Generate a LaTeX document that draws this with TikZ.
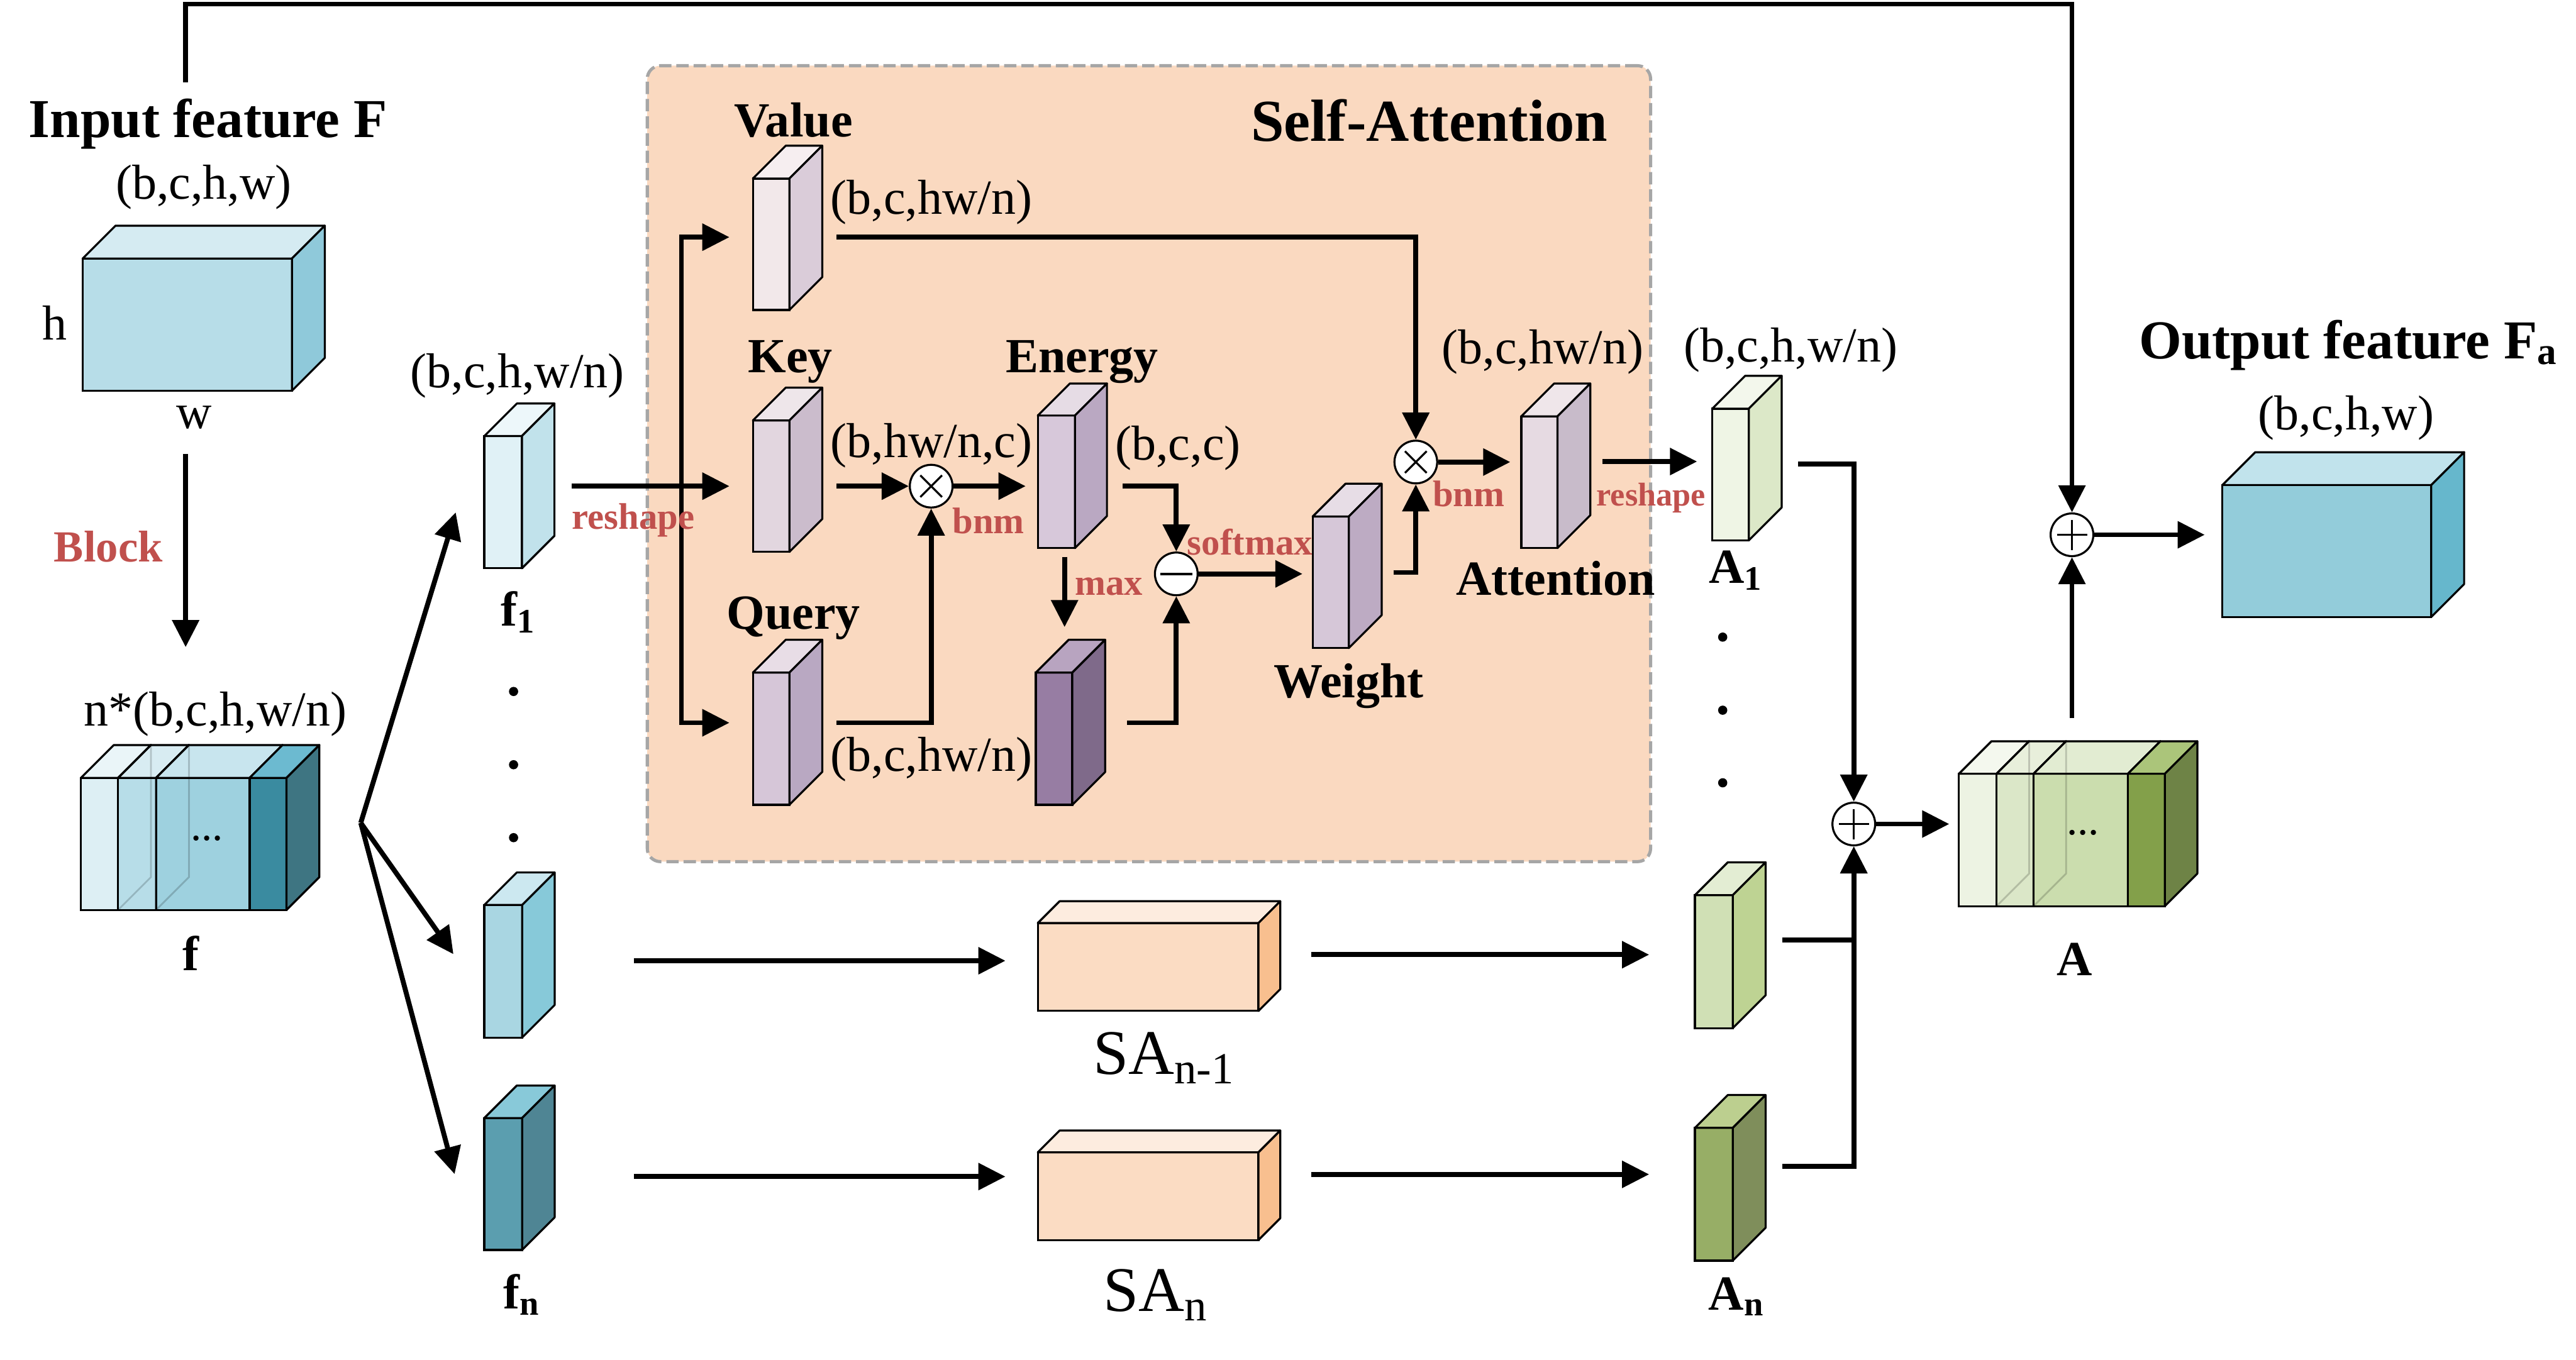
\documentclass[tikz,border=0pt]{standalone}
\usepackage{fontspec}
\setmainfont{Liberation Serif}
\usetikzlibrary{arrows.meta}

\definecolor{inFf}{HTML}{B7DDE8}\definecolor{inFt}{HTML}{D5EBF2}\definecolor{inFs}{HTML}{8FC9DA}
\definecolor{fSa}{HTML}{DDEFF4}\definecolor{fSat}{HTML}{EAF5F8}
\definecolor{fSb}{HTML}{B7DDE8}\definecolor{fSbt}{HTML}{D8ECF2}
\definecolor{fSc}{HTML}{9ED1DF}\definecolor{fSct}{HTML}{C8E5EE}
\definecolor{fSd}{HTML}{3A8BA0}\definecolor{fSdt}{HTML}{6CBAD0}\definecolor{fSds}{HTML}{3E7582}
\definecolor{fOnef}{HTML}{E0F1F6}\definecolor{fOnet}{HTML}{EDF7FA}\definecolor{fOnes}{HTML}{C1E2EB}
\definecolor{fMf}{HTML}{A9D6E2}\definecolor{fMt}{HTML}{CCE8F0}\definecolor{fMs}{HTML}{87C9D9}
\definecolor{fNf}{HTML}{5B9EAF}\definecolor{fNt}{HTML}{88C9D9}\definecolor{fNs}{HTML}{4F8594}
\definecolor{valf}{HTML}{F2E8EA}\definecolor{valt}{HTML}{F6EEF0}\definecolor{vals}{HTML}{DACCD9}
\definecolor{keyf}{HTML}{E2D6DF}\definecolor{keyt}{HTML}{EEE6EA}\definecolor{keys}{HTML}{CBBCCC}
\definecolor{qryf}{HTML}{D6C6D8}\definecolor{qryt}{HTML}{E8DDE6}\definecolor{qrys}{HTML}{B9A8C2}
\definecolor{engf}{HTML}{D7C8DA}\definecolor{engt}{HTML}{E6DCE5}\definecolor{engs}{HTML}{BAA8C2}
\definecolor{maxf}{HTML}{977DA3}\definecolor{maxt}{HTML}{B8A4C0}\definecolor{maxs}{HTML}{7F6A8A}
\definecolor{wgtf}{HTML}{D6C7D8}\definecolor{wgtt}{HTML}{E7DDE6}\definecolor{wgts}{HTML}{BDABC3}
\definecolor{attf}{HTML}{E6DAE2}\definecolor{attt}{HTML}{EFE6EA}\definecolor{atts}{HTML}{C8BBCA}
\definecolor{saf}{HTML}{FBDCC3}\definecolor{sat}{HTML}{FDECDF}\definecolor{sas}{HTML}{F8BF8F}
\definecolor{aOnef}{HTML}{EFF5E5}\definecolor{aOnet}{HTML}{F3F7EC}\definecolor{aOnes}{HTML}{DCE8C8}
\definecolor{aMf}{HTML}{D0E0B5}\definecolor{aMt}{HTML}{E3EDD3}\definecolor{aMs}{HTML}{BED393}
\definecolor{aNf}{HTML}{97AE66}\definecolor{aNt}{HTML}{BCCF8F}\definecolor{aNs}{HTML}{7F8E5B}
\definecolor{aSa}{HTML}{EDF3E3}\definecolor{aSat}{HTML}{F4F8EE}
\definecolor{aSb}{HTML}{DBE7C8}\definecolor{aSbt}{HTML}{E8EFDB}
\definecolor{aSc}{HTML}{CBDDAE}\definecolor{aSct}{HTML}{E2ECD2}
\definecolor{aSd}{HTML}{83A04A}\definecolor{aSdt}{HTML}{ABC57A}\definecolor{aSds}{HTML}{6E8346}
\definecolor{outf}{HTML}{93CCDA}\definecolor{outt}{HTML}{C1E3EC}\definecolor{outs}{HTML}{66B7CC}
\definecolor{panelfill}{HTML}{FAD9C0}
\definecolor{paneldash}{HTML}{A6A6A6}
\definecolor{oplred}{HTML}{C0504D}

% feature map cuboid: name, front x0, y0, x1, y1, depth, front, top, side
\newcommand{\fmap}[9]{%
	\node[fmapface, fill=#7, minimum width={(#4-#2)*0.1mm}, minimum height={(#5-#3)*0.1mm}] (#1) at ({(#2+#4)/2},{(#3+#5)/2}) {};
	\filldraw[fmapedge, fill=#8] (#1.north west) -- ++(#6,-#6) -- ([shift={(#6,-#6)}]#1.north east) -- (#1.north east) -- cycle;
	\filldraw[fmapedge, fill=#9] (#1.north east) -- ++(#6,-#6) -- ([shift={(#6,-#6)}]#1.south east) -- (#1.south east) -- cycle;
}

\begin{document}
\begin{tikzpicture}[
	x=0.1mm, y=-0.1mm,
	fmapface/.style={rectangle, draw, line width=0.35pt, inner sep=0pt, outer sep=0pt},
	fmapedge/.style={draw, line width=0.35pt, line join=round},
	ghost/.style={draw=black, opacity=0.18, line width=0.3pt},
	panel/.style={rectangle, draw=paneldash, fill=panelfill, line width=0.55pt,
		dash pattern=on 0.75mm off 0.3mm, rounded corners=0.8mm, inner sep=0pt},
	arrow/.style={-{Triangle[length=1.65mm, width=1.6mm]}, line width=0.85pt},
	opcirc/.style={circle, draw, fill=white, line width=0.35pt, minimum size=2.6mm, inner sep=0pt},
	otimes/.style={opcirc, path picture={
		\draw[line width=0.35pt] ([shift={(-0.66mm,-0.66mm)}]path picture bounding box.center) -- ([shift={(0.66mm,0.66mm)}]path picture bounding box.center)
		([shift={(-0.66mm,0.66mm)}]path picture bounding box.center) -- ([shift={(0.66mm,-0.66mm)}]path picture bounding box.center);}},
	oplus/.style={opcirc, path picture={
		\draw[line width=0.35pt] ([xshift=-0.92mm]path picture bounding box.center) -- ([xshift=0.92mm]path picture bounding box.center)
		([yshift=-0.92mm]path picture bounding box.center) -- ([yshift=0.92mm]path picture bounding box.center);}},
	ominus/.style={opcirc, path picture={
		\draw[line width=0.45pt] ([xshift=-0.98mm]path picture bounding box.center) -- ([xshift=0.98mm]path picture bounding box.center);}},
	dimlbl/.style={font=\fontsize{8.5}{10}\selectfont, inner sep=0pt, anchor=base},
	mapname/.style={font=\bfseries\fontsize{8.5}{10}\selectfont, inner sep=0pt, anchor=base},
	headlbl/.style={font=\bfseries\fontsize{9.5}{11}\selectfont, inner sep=0pt, anchor=base},
	salbl/.style={font=\fontsize{11}{13}\selectfont, inner sep=0pt, anchor=base},
	oplbl/.style={text=oplred, font=\bfseries\fontsize{6.4}{7.5}\selectfont, inner sep=0pt, anchor=base},
	dotlbl/.style={font=\fontsize{7.5}{9}\selectfont, inner sep=0pt}
	]
	\useasboundingbox (0,0) rectangle (1568,828);
	
	% Self-attention panel
	\node[panel, minimum width=61.07mm, minimum height=48.46mm] (sabox) at (699.35,282.3) {};
	
	% Feature maps
	\fmap{inF}{50.3}{157.4}{177.7}{237.9}{20}{inFf}{inFt}{inFs}
	\fmap{fS1}{49.3}{473.6}{71.9}{554}{20}{fSa}{fSat}{fSb}
	\fmap{fS2}{71.9}{473.6}{95}{554}{20}{fSb}{fSbt}{fSc}
	\fmap{fS3}{95}{473.6}{152}{554}{20}{fSc}{fSct}{fSd}
	\fmap{fS4}{152}{473.6}{174.4}{554}{20}{fSd}{fSdt}{fSds}
	\draw[ghost] ([shift={(20,-20)}]fS2.north west) -- ([shift={(20,-20)}]fS2.south west) -- (fS2.south west);
	\draw[ghost] ([shift={(20,-20)}]fS3.north west) -- ([shift={(20,-20)}]fS3.south west) -- (fS3.south west);
	\fmap{f1}{294.8}{265.5}{317.7}{346}{19.8}{fOnef}{fOnet}{fOnes}
	\fmap{fm}{294.8}{551}{317.8}{631.7}{19.8}{fMf}{fMt}{fMs}
	\fmap{fn}{294.8}{680.7}{317.8}{761}{19.8}{fNf}{fNt}{fNs}
	\fmap{value}{458.3}{108.7}{480.5}{188.7}{20}{valf}{valt}{vals}
	\fmap{key}{458.3}{256}{480.5}{336}{20}{keyf}{keyt}{keys}
	\fmap{query}{458.3}{409.5}{480.5}{490}{20}{qryf}{qryt}{qrys}
	\fmap{energy}{631.7}{253}{654.3}{333.7}{19.5}{engf}{engt}{engs}
	\fmap{emax}{630.5}{409.5}{652.7}{490}{20}{maxf}{maxt}{maxs}
	\fmap{weight}{799}{314.5}{821}{394.6}{20}{wgtf}{wgtt}{wgts}
	\fmap{att}{926}{253.5}{948}{333.7}{20}{attf}{attt}{atts}
	\fmap{sa1}{631.7}{562}{766}{615.5}{13.3}{saf}{sat}{sas}
	\fmap{san}{631.7}{701.6}{766}{755}{13.3}{saf}{sat}{sas}
	\fmap{a1}{1042.3}{248.8}{1064.5}{329}{20}{aOnef}{aOnet}{aOnes}
	\fmap{am}{1031.7}{545}{1054.7}{626}{20}{aMf}{aMt}{aMs}
	\fmap{an}{1031.7}{686.7}{1054.7}{767.5}{20}{aNf}{aNt}{aNs}
	\fmap{aS1}{1192.4}{471.1}{1215.3}{551.7}{19.8}{aSa}{aSat}{aSb}
	\fmap{aS2}{1215.3}{471.1}{1237.8}{551.7}{19.8}{aSb}{aSbt}{aSc}
	\fmap{aS3}{1237.8}{471.1}{1295.2}{551.7}{19.8}{aSc}{aSct}{aSd}
	\fmap{aS4}{1295.2}{471.1}{1317.7}{551.7}{19.8}{aSd}{aSdt}{aSds}
	\draw[ghost] ([shift={(19.8,-19.8)}]aS2.north west) -- ([shift={(19.8,-19.8)}]aS2.south west) -- (aS2.south west);
	\draw[ghost] ([shift={(19.8,-19.8)}]aS3.north west) -- ([shift={(19.8,-19.8)}]aS3.south west) -- (aS3.south west);
	\fmap{outF}{1352.8}{295.3}{1479.9}{375.6}{20}{outf}{outt}{outs}
	
	% Operators
	\node[otimes] (mul1) at (566.8,296) {};
	\node[otimes] (mul2) at (861.8,281.3) {};
	\node[ominus] (sub) at (716,349.4) {};
	\node[oplus] (sum) at (1128.4,501.7) {};
	\node[oplus] (addF) at (1261.2,325.6) {};
	
	\coordinate (skip) at (113,50);
	\coordinate (skipTop) at (113,2.5);
	\coordinate (fork) at (219.6,501);
	\coordinate (split) at (414.8,296);
	
	% Arrows
	\draw[arrow] (skip) -- (skipTop) -| (addF.north);
	\draw[arrow] (inF.south) ++(-1,38.4) -- ++(0,117.7);
	\draw[arrow] (fork) -- ([shift={(-17.4,6.2)}]f1.west);
	\draw[arrow] (fork) -- ([shift={(-18.8,-10.4)}]fm.west);
	\draw[arrow] (fork) -- ([shift={(-18.1,-6)}]fn.west);
	\draw[arrow, shorten <=3.03mm, shorten >=1.43mm] (f1.east |- key.west) -- (key.west);
	\draw[arrow, shorten >=1.43mm] (split) |- ([yshift=0.43mm]value.west);
	\draw[arrow, shorten >=1.43mm] (split) |- ([yshift=0.97mm]query.west);
	\draw[arrow, shorten <=2.88mm] ([yshift=0.43mm]value.east) -| (mul2.north);
	\draw[arrow, shorten <=2.88mm] (key.east) -- (mul1.west);
	\draw[arrow, shorten <=2.88mm] ([yshift=0.97mm]query.east) -| (mul1.south);
	\draw[arrow, shorten >=0.74mm] (mul1.east) -- (mul1.east -| energy.west);
	\draw[arrow, shorten <=2.92mm] (mul1.east -| energy.east) -| (sub.north);
	\draw[arrow, shorten <=0.53mm, shorten >=2.77mm] ([xshift=0.5mm]energy.south) -- ([xshift=0.5mm]energy.south |- emax.north);
	\draw[arrow, shorten <=3.33mm] ([yshift=0.97mm]emax.east) -| (sub.south);
	\draw[arrow, shorten >=0.62mm] (sub.east) -- (sub.east -| weight.west);
	\draw[arrow, shorten <=2.72mm] ([yshift=0.6mm]weight.east) -| (mul2.south);
	\draw[arrow, shorten >=0.67mm] (mul2.east) -- (mul2.east -| att.west);
	\draw[arrow, shorten <=2.74mm, shorten >=0.93mm] ([yshift=1.26mm]att.east) -- ([yshift=1.26mm]att.east -| a1.west);
	\draw[arrow, shorten <=3.01mm] ([yshift=0.64mm]a1.east) -| (sum.north);
	\draw[arrow, shorten <=6.82mm, shorten >=1.97mm] ([yshift=0.64mm]fm.east) -- ([yshift=0.64mm]fm.east -| sa1.west);
	\draw[arrow, shorten <=6.82mm, shorten >=1.97mm] ([yshift=0.45mm]fn.east) -- ([yshift=0.45mm]fn.east -| san.west);
	\draw[arrow, shorten <=3.2mm, shorten >=2.79mm] ([yshift=0.75mm]sa1.east) -- ([yshift=0.75mm]sa1.east -| am.west);
	\draw[arrow, shorten <=3.2mm, shorten >=2.79mm] ([yshift=1.33mm]san.east) -- ([yshift=1.33mm]san.east -| an.west);
	\draw[arrow, shorten <=3.03mm] ([yshift=1.32mm]am.east) -| (sum.south);
	\draw[arrow, shorten <=3.03mm] ([yshift=1.71mm]an.east) -| (sum.south);
	\draw[arrow, shorten >=0.59mm] (sum.east) -- (sum.east -| aS1.west);
	\draw[arrow, shorten <=3.38mm] (addF.south |- aS3.north) -- (addF.south);
	\draw[arrow, shorten >=1.08mm] (addF.east) -- (addF.east -| outF.west);
	
	% Dots between branches
	\foreach \dy in {421,465.6,510} \fill (312.6,\dy) circle[radius=0.28mm];
	\foreach \dy in {387.9,432.4,476.6} \fill (1048.6,\dy) circle[radius=0.28mm];
	
	% Labels
	\node[headlbl] (inTitle) at (126.6,83.8) {Input feature F};
	\node[dimlbl] (inDim) at (124,121) {(b,c,h,w)};
	\node[dimlbl] (inH) at (33.5,207) {h};
	\node[dimlbl] (inW) at (118,261) {w};
	\node[oplbl, font=\bfseries\fontsize{7.7}{9}\selectfont] (blk) at (66,342) {Block};
	\node[dimlbl] (fDim) at (131,442) {n*(b,c,h,w/n)};
	\node[dotlbl] (fDots) at (126,510.6) {...};
	\node[mapname] (fName) at (116,591) {f};
	\node[dimlbl] (f1Dim) at (315,236) {(b,c,h,w/n)};
	\node[mapname] (f1Name) at (316,381) {f\textsubscript{1}};
	\node[mapname] (fnName) at (318,797) {f\textsubscript{n}};
	\node[oplbl] (rsL) at (385.5,322) {reshape};
	\node[headlbl, font=\bfseries\fontsize{10.3}{12}\selectfont] (saTitle) at (870,85.9) {Self-Attention};
	\node[mapname] (valName) at (483,83.4) {Value};
	\node[mapname] (keyName) at (481,226.7) {Key};
	\node[mapname] (qryName) at (483,383) {Query};
	\node[mapname] (engName) at (658.6,226.7) {Energy};
	\node[mapname] (wgtName) at (821,424.6) {Weight};
	\node[mapname] (attName) at (947,362.3) {Attention};
	\node[dimlbl] (valDim) at (567,130.5) {(b,c,hw/n)};
	\node[dimlbl] (keyDim) at (567,278.5) {(b,hw/n,c)};
	\node[dimlbl] (qryDim) at (567,469.5) {(b,c,hw/n)};
	\node[dimlbl] (engDim) at (717,280) {(b,c,c)};
	\node[dimlbl] (attDim) at (939,221.5) {(b,c,hw/n)};
	\node[oplbl] (bnmA) at (601.7,325) {bnm};
	\node[oplbl] (bnmB) at (894,308.5) {bnm};
	\node[oplbl] (maxLbl) at (675,362.4) {max};
	\node[oplbl] (smLbl) at (760.8,337.7) {softmax};
	\node[oplbl, font=\bfseries\fontsize{5.7}{7}\selectfont] (rsR) at (1005,308) {reshape};
	\node[dimlbl] (a1Dim) at (1090,220.5) {(b,c,h,w/n)};
	\node[mapname] (a1Name) at (1057,355.2) {A\textsubscript{1}};
	\node[salbl] (sa1Name) at (709,654) {SA\textsubscript{n-1}};
	\node[salbl] (sanName) at (704,798.3) {SA\textsubscript{n}};
	\node[mapname] (anName) at (1057.5,797.5) {A\textsubscript{n}};
	\node[dotlbl] (aDots) at (1268,507) {...};
	\node[mapname] (aName) at (1262.8,593.8) {A};
	\node[headlbl] (outTitle) at (1430,218.5) {Output feature F\textsubscript{a}};
	\node[dimlbl] (outDim) at (1428,261.5) {(b,c,h,w)};
	
\end{tikzpicture}
\end{document}
